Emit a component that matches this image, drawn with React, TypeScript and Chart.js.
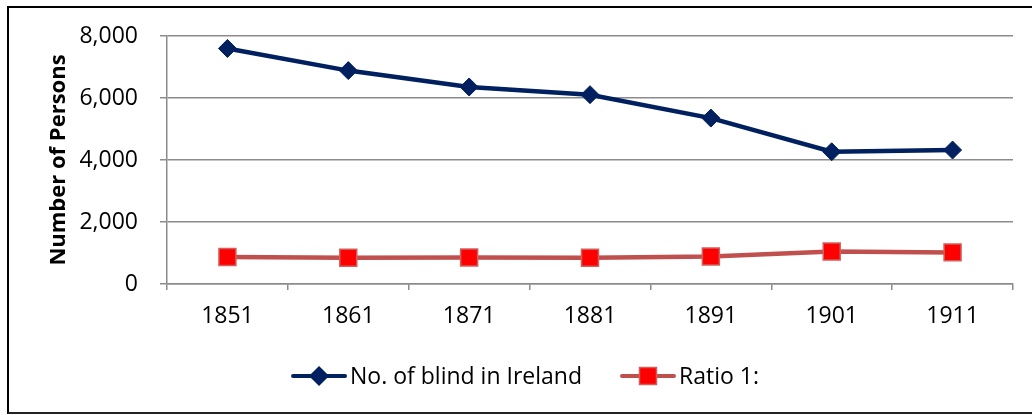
import React, { useEffect, useRef } from "react";
import { Chart, registerables } from "chart.js";

Chart.register(...registerables);

const categories = ["1851", "1861", "1871", "1881", "1891", "1901", "1911"];
const blindValues = [7598, 6884, 6355, 6107, 5352, 4266, 4322];
const ratioValues = [868, 846, 858, 848, 888, 1045, 1020];
const seriesNames = ["No. of blind in Ireland", "Ratio 1:"];
const yTicks = [0, 2000, 4000, 6000, 8000];
const yTitle = "Number of Persons";

const FONT = "'Open Sans', Lato, sans-serif";
const BLUE = "#002060";
const RED_LINE = "#C0504D";
const RED_FILL = "#FF0000";
const GRID = "#8c8c8c";

const legendPlugin = {
  id: "customLegend",
  afterDraw(chart: any) {
    const ctx = chart.ctx;
    const y = 376;
    ctx.save();
    ctx.font = `23px ${FONT}`;
    const sampleW = 56;
    const gapText = 3;
    const gapItems = 38;
    const ds = chart.data.datasets;
    const widths = ds.map((d: any) => ctx.measureText(d.label).width);
    let total = 0;
    widths.forEach((w: number, i: number) => {
      total += sampleW + gapText + w + (i < widths.length - 1 ? gapItems : 0);
    });
    let x = 525 - total / 2;
    ds.forEach((d: any, i: number) => {
      ctx.strokeStyle = d.borderColor;
      ctx.lineWidth = 4;
      ctx.lineCap = "round";
      ctx.beginPath();
      ctx.moveTo(x + 2, y);
      ctx.lineTo(x + sampleW - 2, y);
      ctx.stroke();
      const cx = x + sampleW / 2;
      ctx.fillStyle = d.pointBackgroundColor;
      ctx.strokeStyle = d.pointBorderColor;
      ctx.lineWidth = 1.5;
      ctx.beginPath();
      if (d.pointStyle === "rectRot") {
        const r = 9;
        ctx.moveTo(cx, y - r);
        ctx.lineTo(cx + r, y);
        ctx.lineTo(cx, y + r);
        ctx.lineTo(cx - r, y);
        ctx.closePath();
      } else {
        const s = 8.5;
        ctx.rect(cx - s, y - s, 2 * s, 2 * s);
      }
      ctx.fill();
      ctx.stroke();
      ctx.fillStyle = "#000";
      ctx.textBaseline = "middle";
      ctx.textAlign = "left";
      ctx.fillText(d.label, x + sampleW + gapText, y + 1);
      x += sampleW + gapText + widths[i] + gapItems;
    });
    ctx.restore();
  },
};

export default function App() {
  const ref = useRef<HTMLCanvasElement | null>(null);

  useEffect(() => {
    if (!ref.current) return;
    const chart = new Chart(ref.current, {
      type: "line",
      data: {
        labels: categories,
        datasets: [
          {
            label: seriesNames[0],
            data: blindValues,
            borderColor: BLUE,
            backgroundColor: BLUE,
            borderWidth: 4.5,
            pointStyle: "rectRot",
            pointRadius: 9,
            pointBackgroundColor: BLUE,
            pointBorderColor: BLUE,
            pointBorderWidth: 1,
            tension: 0,
          },
          {
            label: seriesNames[1],
            data: ratioValues,
            borderColor: RED_LINE,
            backgroundColor: RED_FILL,
            borderWidth: 4.5,
            pointStyle: "rect",
            pointRadius: 12,
            pointBackgroundColor: RED_FILL,
            pointBorderColor: "#D0605D",
            pointBorderWidth: 1.5,
            tension: 0,
          },
        ],
      },
      options: {
        responsive: false,
        animation: false,
        devicePixelRatio: 1,
        layout: { padding: { left: 0, right: 19, top: 36, bottom: 71 } },
        plugins: {
          legend: { display: false },
          tooltip: { enabled: false },
        },
        scales: {
          x: {
            type: "category",
            offset: true,
            grid: {
              offset: true,
              drawOnChartArea: false,
              drawTicks: true,
              tickLength: 6,
              color: GRID,
              lineWidth: 1.5,
            },
            border: { display: true, color: GRID, width: 1.5 },
            ticks: {
              color: "#000",
              font: { family: FONT, size: 23 },
              padding: 13,
              maxRotation: 0,
            },
            afterFit(scale: any) {
              scale.height = 60;
            },
          },
          y: {
            min: 0,
            max: 8000,
            afterBuildTicks(scale: any) {
              scale.ticks = yTicks.map((v) => ({ value: v }));
            },
            grid: {
              color: GRID,
              lineWidth: 1.5,
              tickLength: 7,
            },
            border: { display: true, color: GRID, width: 1.5 },
            ticks: {
              color: "#000",
              font: { family: FONT, size: 23 },
              padding: 22,
              callback: (v: any) => Number(v).toLocaleString("en-US"),
            },
            title: {
              display: true,
              text: yTitle,
              color: "#000",
              font: { family: FONT, size: 22, weight: "bold" },
              padding: { top: 46, bottom: 0 },
            },
            afterFit(scale: any) {
              scale.width = 167;
            },
          },
        },
      },
      plugins: [legendPlugin],
    } as any);
    return () => chart.destroy();
  }, []);

  return (
    <div
      style={{
        position: "fixed",
        left: 0,
        top: 0,
        width: 1032,
        height: 415,
        overflow: "hidden",
        background: "#fff",
      }}
    >
      <div
        style={{
          position: "absolute",
          left: 7,
          top: 6,
          width: 1040,
          height: 404,
          borderLeft: "2px solid #000",
          borderTop: "2px solid #000",
          borderBottom: "2px solid #222",
        }}
      />
      <canvas
        ref={ref}
        width={1032}
        height={415}
        style={{ position: "absolute", left: 0, top: 0, width: 1032, height: 415 }}
      />
    </div>
  );
}
